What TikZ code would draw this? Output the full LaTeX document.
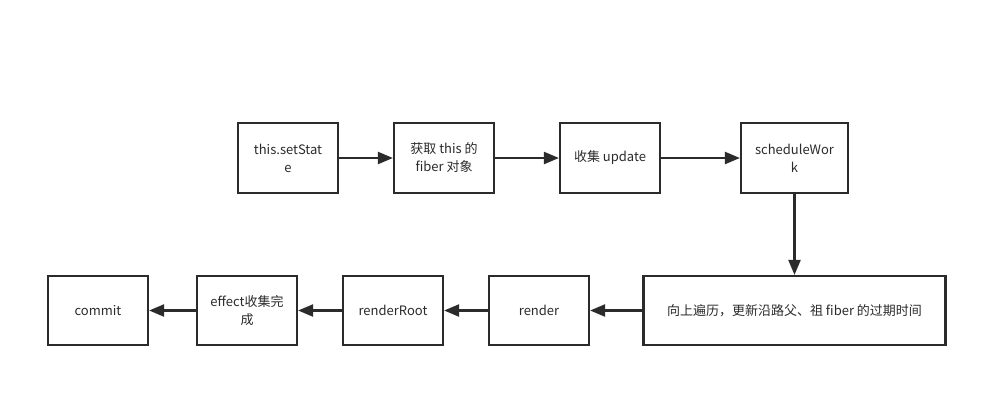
\documentclass[tikz,border=0pt]{standalone}
\usepackage{fontspec}
\setmainfont{Noto Sans CJK SC}
\usetikzlibrary{arrows.meta}
\definecolor{ink}{HTML}{2B2B2B}
\tikzset{
  box/.style={draw=ink, line width=2.2pt, rectangle, minimum width=100pt, minimum height=70pt, inner sep=0pt, text=ink, font=\fontsize{13}{18}\selectfont, align=center},
  conn/.style={draw=ink, line width=2.2pt, -{Triangle[length=15pt,width=12pt]}}
}
\begin{document}
\begin{tikzpicture}[x=1pt,y=-1pt]
\useasboundingbox[fill=white] (0,0) rectangle (1006,407);
\node[box] (b1) at (288,158) {this.setStat\\e};
\node[box] (b2) at (444,158) {获取 this 的\\fiber 对象};
\node[box] (b3) at (610,158) {收集 update};
\node[box, minimum width=107pt] (b4) at (794.5,158) {scheduleWor\\k};
\node[box, minimum width=302pt, minimum height=69pt] (b5) at (794.5,310.5) {向上遍历，更新沿路父、祖 fiber 的过期时间};
\node[box, minimum height=69pt] (b6) at (539,310.5) {render};
\node[box, minimum height=69pt] (b7) at (393,310.5) {renderRoot};
\node[box, minimum height=69pt] (b8) at (247,310.5) {effect收集完\\成};
\node[box, minimum height=69pt] (b9) at (98,310.5) {commit};
\draw[conn] (b1) -- (b2);
\draw[conn] (b2) -- (b3);
\draw[conn] (b3) -- (b4);
\draw[conn] (b4) -- (b5);
\draw[conn] (b5) -- (b6);
\draw[conn] (b6) -- (b7);
\draw[conn] (b7) -- (b8);
\draw[conn] (b8) -- (b9);
\end{tikzpicture}
\end{document}
